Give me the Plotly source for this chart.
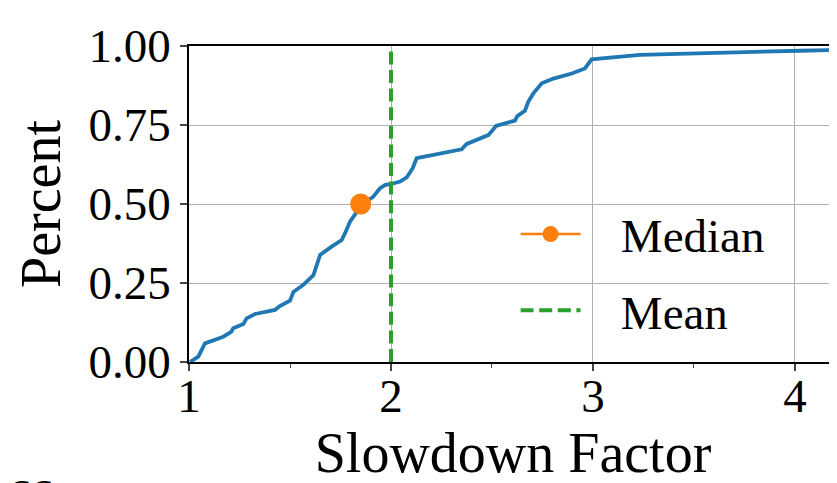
import plotly.graph_objects as go

# CDF of slowdown factor
slowdown = [1.005, 1.046, 1.079, 1.17, 1.21, 1.219, 1.269, 1.285, 1.327, 1.426, 1.45, 1.5,
            1.517, 1.566, 1.616, 1.633, 1.649, 1.706, 1.756, 1.772, 1.797, 1.855, 1.912,
            1.946, 1.97, 2.011, 2.045, 2.078, 2.107, 2.127, 2.243, 2.35, 2.375, 2.482, 2.52,
            2.614, 2.625, 2.663, 2.68, 2.705, 2.746, 2.804, 2.895, 2.96, 2.993, 3.233, 4.025, 4.175]
percent = [0.0, 0.017, 0.059, 0.08, 0.096, 0.107, 0.12, 0.138, 0.152, 0.165, 0.177, 0.194,
           0.222, 0.244, 0.275, 0.312, 0.339, 0.365, 0.386, 0.407, 0.444, 0.497, 0.523,
           0.55, 0.56, 0.565, 0.571, 0.584, 0.613, 0.645, 0.66, 0.673, 0.69, 0.718, 0.747,
           0.764, 0.778, 0.795, 0.824, 0.85, 0.882, 0.897, 0.913, 0.929, 0.958, 0.972, 0.985, 0.987]

median_x = [1.85]
median_y = [0.5]
mean_x = [2.0, 2.0]
mean_y = [0.0, 1.0]

y_ticks = [0.0, 0.25, 0.5, 0.75, 1.0]
y_tick_labels = ["0.00", "0.25", "0.50", "0.75", "1.00"]
x_ticks = [1, 2, 3, 4]

FONT = "Liberation Serif, Times New Roman, serif"
FS = 47
PAD = "\u00a0\u00a0\u00a0"

fig = go.Figure()
fig.add_trace(go.Scatter(x=slowdown, y=percent, mode="lines",
                         line=dict(color="#1f77b4", width=3.8),
                         showlegend=False, hoverinfo="skip"))
fig.add_trace(go.Scatter(x=median_x, y=median_y, mode="lines+markers", name=PAD + "Median",
                         legendgroup="median",
                         line=dict(color="#ff7f0e", width=2.5),
                         marker=dict(color="#ff7f0e", size=21)))
fig.add_trace(go.Scatter(x=mean_x, y=mean_y, mode="lines", name=PAD + "Mean",
                         legendgroup="mean",
                         line=dict(color="#2ca02c", width=4, dash="13px,5.6px")))

# page body adds an 8px offset; margins compensate so the plot area sits at
# x 189..837, y 46..362 in the screenshot
fig.update_layout(
    width=837, height=483,
    margin=dict(l=181, r=8, t=38, b=129, autoexpand=False),
    paper_bgcolor="white", plot_bgcolor="white",
    font=dict(family=FONT, size=FS, color="black"),
    legend=dict(x=0.504, y=0.283, xanchor="left", yanchor="middle", itemwidth=60,
                bgcolor="rgba(0,0,0,0)", font=dict(size=FS), tracegroupgap=12),
    annotations=[dict(text="SS", xref="paper", yref="paper", x=-181/648, y=-(461-354)/316,
                      xanchor="left", yanchor="top", showarrow=False,
                      font=dict(size=40, family=FONT))],
)
fig.update_xaxes(
    range=[1, 4.208], tickvals=x_ticks, ticks="outside", ticklen=7, tickwidth=1.5,
    ticklabelstandoff=-15,
    showline=True, linecolor="black", linewidth=1.5, mirror=True, automargin=False,
    showgrid=True, gridcolor="#b0b0b0", gridwidth=1.3, zeroline=False,
    minor=dict(dtick=0.5, tick0=1, ticks="outside", ticklen=4, tickwidth=1, showgrid=False),
    title=dict(text="Slowdown Factor", standoff=4),
)
fig.update_yaxes(
    range=[0, 1], tickvals=y_ticks, ticktext=y_tick_labels, ticks="outside", ticklen=7,
    tickwidth=1.5, showline=True, linecolor="black", linewidth=1.5, automargin=False,
    showgrid=True, gridcolor="#b0b0b0", gridwidth=1.3, zeroline=False,
    title=dict(text="Percent", standoff=10),
)

fig.write_html("out.html")
